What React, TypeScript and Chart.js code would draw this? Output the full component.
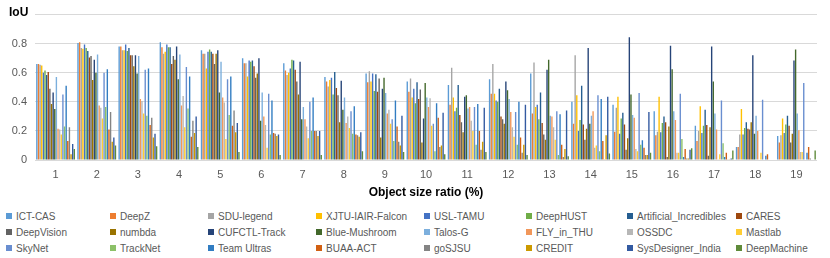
import React, { useEffect, useRef } from 'react';
import { Chart, registerables } from 'chart.js';

Chart.register(...registerables);

const categories = ['1', '2', '3', '4', '5', '6', '7', '8', '9', '10', '11', '12', '13', '14', '15', '16', '17', '18', '19'];

const seriesNames = [
  'ICT-CAS', 'DeepZ', 'SDU-legend', 'XJTU-IAIR-Falcon', 'USL-TAMU', 'DeepHUST', 'Artificial_Incredibles', 'CARES',
  'DeepVision', 'numbda', 'CUFCTL-Track', 'Blue-Mushroom', 'Talos-G', 'FLY_in_THU', 'OSSDC', 'Mastlab',
  'SkyNet', 'TrackNet', 'Team Ultras', 'BUAA-ACT', 'goSJSU', 'CREDIT', 'SysDesigner_India', 'DeepMachine',
];

const ictCas = [0.66, 0.805, 0.78, 0.81, 0.755, 0.70, 0.665, 0.57, 0.595, 0.54, 0.515, 0.555, 0.595, 0.40, 0.38, 0.335, 0.235, 0.09, 0.165];
const deepZ = [0.66, 0.81, 0.78, 0.775, 0.73, 0.665, 0.615, 0.54, 0.535, 0.47, 0.38, 0.455, 0.32, 0.25, 0.195, 0.17, 0.13, 0.09, 0.12];
const sduLegend = [0.655, 0.77, 0.755, 0.73, 0.73, 0.665, 0.585, 0.505, 0.61, 0.56, 0.635, 0.66, 0.67, 0.72, 0.36, 0.195, 0.2, 0.175, 0.17];
const xjtu = [0.65, 0.765, 0.755, 0.745, 0.63, 0.575, 0.6, 0.55, 0.54, 0.43, 0.43, 0.455, 0.365, 0.445, 0.435, 0.435, 0.37, 0.35, 0.285];
const uslTamu = [0.6, 0.795, 0.795, 0.795, 0.745, 0.685, 0.63, 0.565, 0.595, 0.49, 0.335, 0.41, 0.38, 0.2, 0.18, 0.19, 0.185, 0.175, 0.185];
const deepHust = [0.615, 0.77, 0.75, 0.775, 0.76, 0.675, 0.69, 0.45, 0.475, 0.39, 0.36, 0.4, 0.28, 0.275, 0.285, 0.255, 0.235, 0.22, 0.245];
const artificial = [0.585, 0.75, 0.77, 0.775, 0.745, 0.685, 0.685, 0.605, 0.59, 0.535, 0.515, 0.49, 0.465, 0.51, 0.325, 0.3, 0.345, 0.26, 0.305];
const cares = [0.605, 0.705, 0.72, 0.66, 0.73, 0.645, 0.62, 0.495, 0.47, 0.42, 0.31, 0.3, 0.255, 0.245, 0.245, 0.26, 0.24, 0.215, 0.235];
const deepVision = [0.49, 0.715, 0.72, 0.715, 0.66, 0.565, 0.54, 0.445, 0.56, 0.485, 0.26, 0.28, 0.175, 0.14, 0.07, 0.02, 0.03, 0.21, 0.12];
const numbda = [0.385, 0.55, 0.645, 0.69, 0.73, 0.595, 0.45, 0.26, 0.155, 0.12, 0.19, 0.25, 0.14, 0.215, 0.15, 0.23, 0.225, 0.26, 0.18];
const cufctl = [0.465, 0.69, 0.72, 0.78, 0.755, 0.70, 0.675, 0.545, 0.49, 0.285, 0.435, 0.54, 0.62, 0.77, 0.845, 0.785, 0.78, 0.72, 0.685];
const blueMushroom = [0.35, 0.6, 0.595, 0.555, 0.465, 0.27, 0.28, 0.345, 0.565, 0.53, 0.445, 0.48, 0.69, 0.25, 0.45, 0.625, 0.54, 0.18, 0.76];
const talosG = [0.57, 0.725, 0.715, 0.725, 0.675, 0.465, 0.365, 0.43, 0.46, 0.43, 0.355, 0.42, 0.305, 0.305, 0.31, 0.335, 0.32, 0.305, 0.32];
const flyInThu = [0.215, 0.375, 0.42, 0.375, 0.43, 0.3, 0.28, 0.255, 0.32, 0.365, 0.365, 0.33, 0.3, 0.335, 0.29, 0.275, 0.21, 0.2, 0.205];
const ossdc = [0.21, 0.36, 0.405, 0.44, 0.395, 0.24, 0.23, 0.3, 0.345, 0.425, 0.27, 0.225, 0.225, 0.085, 0.075, 0.05, 0.005, 0, 0.055];
const mastlab = [0.175, 0.285, 0.32, 0.225, 0.145, 0.085, 0.15, 0.22, 0.25, 0.235, 0.2, 0.16, 0.14, 0.1, 0.06, 0.05, 0.04, 0.05, 0.055];
const skyNet = [0.45, 0.6, 0.62, 0.64, 0.555, 0.455, 0.40, 0.335, 0.28, 0.25, 0.365, 0.33, 0.335, 0.445, 0.46, 0.455, 0.41, 0.415, 0.53];
const trackNet = [0.23, 0.365, 0.305, 0.355, 0.31, 0.175, 0.2, 0.18, 0.13, 0.06, 0.105, 0.105, 0.035, 0.06, 0.105, 0.145, 0.115, 0, 0];
const teamUltras = [0.51, 0.625, 0.63, 0.575, 0.575, 0.41, 0.43, 0.37, 0.41, 0.39, 0.385, 0.4, 0.315, 0.42, 0.135, 0.02, 0.02, 0.03, 0.05];
const buaaAct = [0.13, 0.21, 0.24, 0.16, 0.235, 0.185, 0.2, 0.175, 0.23, 0.29, 0.2, 0.155, 0.105, 0.13, 0.085, 0.075, 0.05, 0.04, 0.09];
const goSjsu = [0.225, 0.33, 0.29, 0.27, 0.34, 0.18, 0.2, 0.17, 0.125, 0.09, 0.07, 0.05, 0.02, 0.005, 0.035, 0.01, 0.005, 0, 0.01];
const credit = [0.04, 0.125, 0.155, 0.185, 0.19, 0.165, 0.165, 0.16, 0.1, 0.1, 0.125, 0.105, 0.075, 0.17, 0.035, 0.01, 0.005, 0, 0];
const sysDesigner = [0.11, 0.155, 0.18, 0.3, 0.255, 0.175, 0.2, 0.19, 0.305, 0.325, 0.36, 0.38, 0.34, 0.435, 0.33, 0.07, 0.01, 0, 0];
const deepMachine = [0.075, 0.1, 0.095, 0.09, 0.055, 0.035, 0.035, 0.06, 0.055, 0.04, 0.055, 0.035, 0.025, 0.045, 0.05, 0.08, 0.065, 0, 0.065];

const seriesValues = [
  ictCas, deepZ, sduLegend, xjtu, uslTamu, deepHust, artificial, cares,
  deepVision, numbda, cufctl, blueMushroom, talosG, flyInThu, ossdc, mastlab,
  skyNet, trackNet, teamUltras, buaaAct, goSjsu, credit, sysDesigner, deepMachine,
];

const seriesColors = [
  '#5B9BD5', '#ED7D31', '#A5A5A5', '#FFC000', '#4472C4', '#70AD47', '#255E91', '#9E480E',
  '#636363', '#997300', '#264478', '#43682B', '#7CAFDD', '#F1975A', '#B7B7B7', '#FFCD33',
  '#698ED0', '#8CC168', '#327DC2', '#D26012', '#848484', '#CC9A00', '#335AA1', '#5F8B3A',
];

const yAxisTitle = 'IoU';
const xAxisTitle = 'Object size ratio (%)';

const FONT = "'Liberation Sans', Arial, sans-serif";
const legendCols = [6, 110, 208, 316, 424, 526, 627, 736];
const legendRows = [216, 232, 248];

const iouPlugin = {
  id: 'iouTitle',
  afterDraw(chart: any) {
    const ctx = chart.ctx;
    ctx.save();
    ctx.font = `bold 12px ${FONT}`;
    ctx.fillStyle = '#000000';
    ctx.textAlign = 'left';
    ctx.textBaseline = 'middle';
    ctx.fillText(yAxisTitle, 9, 13);
    ctx.restore();
  },
};

export default function App() {
  const canvasRef = useRef<HTMLCanvasElement | null>(null);

  useEffect(() => {
    if (!canvasRef.current) return;
    const chart = new Chart(canvasRef.current, {
      type: 'bar',
      data: {
        labels: categories,
        datasets: seriesNames.map((name, i) => ({
          label: name,
          data: seriesValues[i],
          backgroundColor: seriesColors[i],
          borderWidth: 0,
          categoryPercentage: 0.95,
          barPercentage: 0.85,
        })),
      },
      options: {
        responsive: false,
        animation: false,
        layout: { padding: { top: 7, right: 13, left: 0, bottom: 0 } },
        plugins: {
          legend: { display: false },
          tooltip: { enabled: false },
          title: { display: false },
        },
        scales: {
          x: {
            grid: { display: false },
            border: { display: false },
            ticks: { color: '#595959', font: { family: FONT, size: 11 }, padding: 0 },
            title: {
              display: true,
              text: xAxisTitle,
              color: '#000000',
              font: { family: FONT, size: 12, weight: 'bold' },
              padding: { top: 3, bottom: 0 },
            },
            afterFit(scale: any) { scale.height = 40; },
          },
          y: {
            min: 0,
            max: 1,
            grid: { color: '#D9D9D9', lineWidth: 1, drawTicks: false },
            border: { display: false },
            ticks: {
              stepSize: 0.2,
              color: '#595959',
              font: { family: FONT, size: 11 },
              padding: 8,
              callback: (v: any) => (Math.abs(Number(v) - 1) < 1e-9 ? '' : String(Math.round(Number(v) * 10) / 10)),
            },
            afterFit(scale: any) { scale.width = 35; },
          },
        },
      },
      plugins: [iouPlugin],
    });
    return () => chart.destroy();
  }, []);

  return (
    <div style={{ position: 'absolute', left: 0, top: 0, width: 830, height: 258, background: '#ffffff', fontFamily: FONT }}>
      <canvas ref={canvasRef} width={830} height={200} style={{ display: 'block', width: 830, height: 200 }} />
      {seriesNames.map((name, i) => {
        const col = i % 8;
        const row = Math.floor(i / 8);
        return (
          <div
            key={name}
            style={{
              position: 'absolute',
              left: legendCols[col],
              top: legendRows[row] - 7,
              height: 14,
              display: 'flex',
              alignItems: 'center',
              whiteSpace: 'nowrap',
              fontSize: 10,
              color: '#595959',
            }}
          >
            <span style={{ display: 'inline-block', width: 6, height: 6, background: seriesColors[i], marginRight: 4 }} />
            <span>{name}</span>
          </div>
        );
      })}
    </div>
  );
}
